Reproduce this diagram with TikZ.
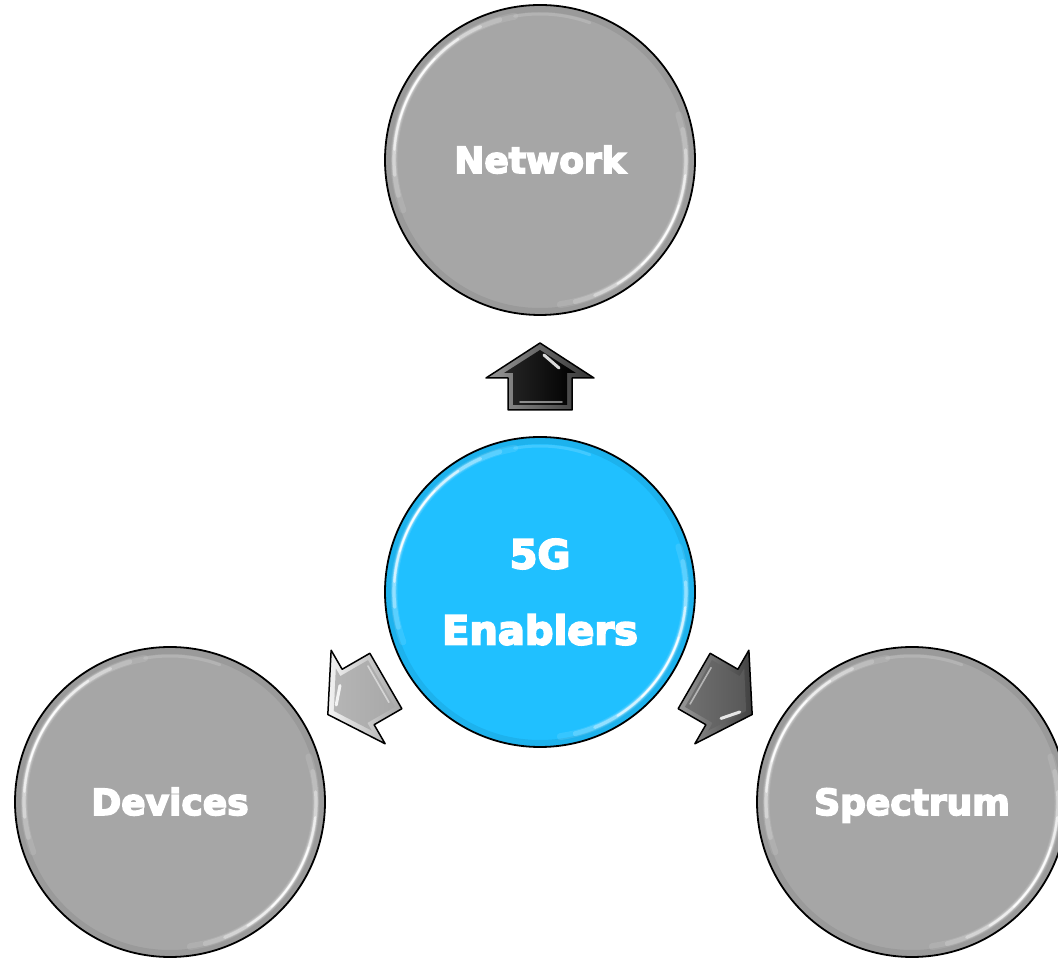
\documentclass[tikz,border=0pt]{standalone}
\usepackage{fontspec}
\setmainfont{DejaVu Sans}
\newfontfamily\heavyfont[FakeBold=4.5]{DejaVu Sans Bold}
\usetikzlibrary{calc}
\definecolor{bubblegray}{RGB}{166,166,166}
\definecolor{bubbleblue}{RGB}{32,192,255}
\definecolor{arrowlight}{RGB}{168,168,168}
\definecolor{arrowdark}{RGB}{88,88,88}
\tikzset{
  bubble/.style={circle, draw=black, line width=1.8pt, minimum size=310pt, inner sep=0pt,
    text=white, font=\heavyfont\fontsize{36}{44}\selectfont, text height=26pt, text depth=0pt},
  centerbubble/.style={bubble, fill=bubbleblue, text height=, text depth=, align=center,
    font=\heavyfont\fontsize{40}{76}\selectfont},
  glint/.style={white, line cap=round},
  arrowoutline/.style={draw=black, line width=1.5pt, line join=round},
}
% glossy rim highlights on a bubble: #1 node, #2 radius of highlight (pt)
\newcommand{\glossrim}[2]{%
  \begin{scope}[shift={(#1.center)}]
    \draw[black, opacity=0.07, line width=6pt] (0,0) circle (#2+5);
    \foreach \s/\w/\o in {50/7/0.10, 44/5/0.18, 36/3.2/0.35, 26/2.2/0.6, 14/1.6/0.85}{
      \draw[glint, line width=\w pt, opacity=\o] (150-\s:#2) arc[start angle=150-\s, end angle=150+\s, radius=#2];
      \draw[glint, line width=\w pt, opacity=\o] (-32-\s:#2) arc[start angle=-32-\s, end angle=-32+\s, radius=#2];
    }
    \draw[glint, line width=3pt, opacity=0.15] (70:#2) arc[start angle=70, end angle=100, radius=#2];
  \end{scope}}
% block arrow: #1 angle, #2 distance of tail from centre, #3 main colour, #4 bevel light, #5 bevel dark
\newcommand{\blockarrow}[5]{%
  \begin{scope}[shift={(c5g.center)}, rotate=#1, xshift=#2]
    \shade[left color=#4, right color=#5] (0,32)--(32,32)--(32,54)--(67,0)--(32,-54)--(32,-32)--(0,-32)--cycle;
    \shade[left color=#3!85!white, right color=#3] (5,27)--(37,27)--(37,36)--(60,0)--(37,-36)--(37,-27)--(5,-27)--cycle;
    \draw[glint, line width=3pt, opacity=0.85] (42,-19)--(55,-4);
    \draw[glint, line width=1.6pt, opacity=0.5] (8,-22)--(8,20);
    \draw[arrowoutline] (0,32)--(32,32)--(32,54)--(67,0)--(32,-54)--(32,-32)--(0,-32)--cycle;
  \end{scope}}
\begin{document}
\begin{tikzpicture}[x=1pt, y=1pt]
  \useasboundingbox (0,0) rectangle (1058,959);
  \node[bubble, fill=bubblegray] (network) at (540,799) {Network};
  \node[bubble, fill=bubblegray] (devices) at (170,157) {Devices};
  \node[bubble, fill=bubblegray] (spectrum) at (912,157) {Spectrum};
  \node[centerbubble] (c5g) at (540,367) {5G\\Enablers};
  \glossrim{network}{146}
  \glossrim{devices}{146}
  \glossrim{spectrum}{146}
  \glossrim{c5g}{146}
  \blockarrow{90}{182pt}{black}{gray!80!white}{gray!40!black}
  \blockarrow{210}{178pt}{arrowlight}{white!90!gray}{gray!70!white}
  \blockarrow{-30}{178pt}{arrowdark}{gray!80!white}{gray!50!black}
\end{tikzpicture}
\end{document}
